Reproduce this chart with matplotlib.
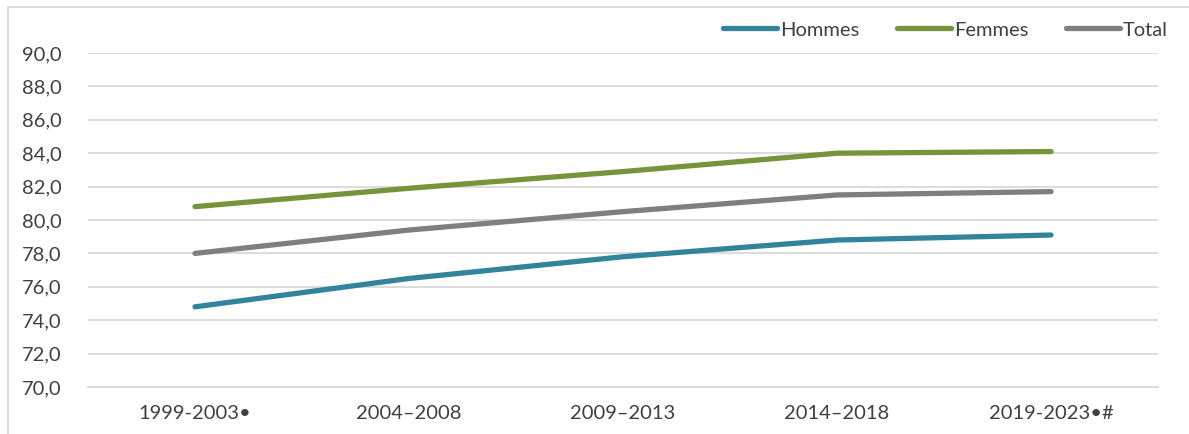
import matplotlib
matplotlib.use("Agg")
import matplotlib.pyplot as plt
from matplotlib.lines import Line2D
from matplotlib.patches import Rectangle

categories = ["1999-2003\u2022", "2004\u20132008", "2009\u20132013", "2014\u20132018", "2019-2023\u2022#"]
hommes = [74.8, 76.5, 77.8, 78.8, 79.1]
femmes = [80.8, 81.9, 82.9, 84.0, 84.1]
total = [78.0, 79.4, 80.5, 81.5, 81.7]
series_names = ["Hommes", "Femmes", "Total"]
colors = ["#31849B", "#77933C", "#7F7F7F"]
yticks = [70, 72, 74, 76, 78, 80, 82, 84, 86, 88, 90]

plt.rcParams['font.family'] = ['Lato', 'DejaVu Sans']

W, H = 1189, 434
fig = plt.figure(figsize=(W / 100, H / 100), dpi=100)
ax = fig.add_axes([88 / W, 1 - 387 / H, (1158 - 88) / W, (387 - 53) / H])

x = list(range(len(categories)))
for vals, name, c in zip([hommes, femmes, total], series_names, colors):
    ax.plot(x, vals, color=c, lw=3.8, solid_capstyle='round', solid_joinstyle='round', label=name, zorder=3)

ax.set_xlim(-0.5, len(categories) - 0.5)
ax.set_ylim(70, 90)
ax.set_yticks(yticks)
ax.set_yticklabels([f"{v:.1f}".replace('.', ',') for v in yticks])
ax.set_xticks(x)
ax.set_xticklabels(categories)
ax.grid(axis='y', color='#D9D9D9', lw=1.3)
ax.tick_params(axis='both', length=0, labelsize=14.5, colors='#404040')
ax.tick_params(axis='y', pad=19)
ax.tick_params(axis='x', pad=13)
for s in ax.spines.values():
    s.set_visible(False)
ax.spines['bottom'].set_visible(True)
ax.spines['bottom'].set_color('#D9D9D9')
ax.spines['bottom'].set_linewidth(1.3)

# outer chart border
fig.add_artist(Rectangle((8 / W, -0.1), 1.2, 1 - 7 / H + 0.1, transform=fig.transFigure,
                         fill=False, edgecolor='#D9D9D9', lw=1.3))

handles = [Line2D([0], [0], color=c, lw=3.8, solid_capstyle='round') for c in colors]
leg = fig.legend(handles, series_names, loc='center right', bbox_to_anchor=(1168 / W, 1 - 30 / H),
                 ncol=3, frameon=False, fontsize=14.5, handlelength=2.7, handletextpad=0.15,
                 columnspacing=1.85, labelcolor='#404040', borderaxespad=0, borderpad=0)

fig.savefig("out.png", dpi=100)
